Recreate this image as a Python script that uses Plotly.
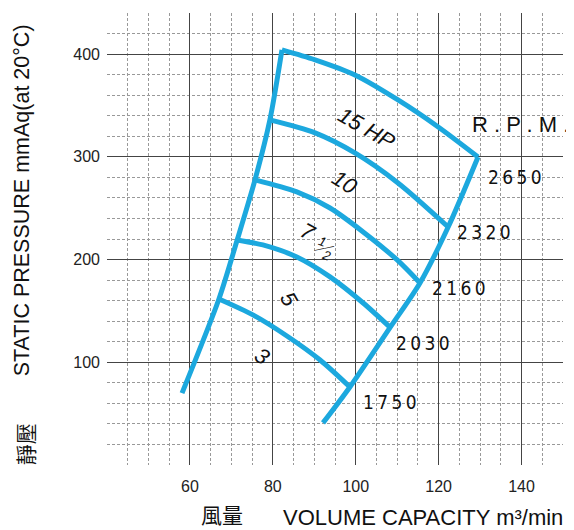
import plotly.graph_objects as go

# ---- data ----
left_x = [58.1, 67.0, 71.4, 75.7, 79.3, 82.2]
left_y = [70, 161.6, 219, 277.5, 336, 404]
right_x = [92.1, 98.6, 108.3, 115.5, 122.3, 129.5]
right_y = [41, 76, 134, 177.2, 231.7, 299.9]

c15_x = [82.2, 90.2, 99.8, 110.2, 119.9, 129.5]
c15_y = [404.1, 394.4, 379.7, 355.4, 329.1, 299.9]
c10_x = [79.3, 90.2, 99.8, 110.2, 122.3]
c10_y = [335.9, 323.3, 303.8, 274.6, 231.7]
c75_x = [75.7, 85.8, 93.8, 101.8, 110.0, 115.5]
c75_y = [277.5, 265.8, 250.2, 226.9, 199.6, 177.2]
c5_x = [71.4, 77.6, 85.8, 93.8, 101.8, 108.3]
c5_y = [219.1, 214.2, 202.5, 183.1, 157.7, 134.0]
c3_x = [67.0, 75.2, 83.4, 91.4, 98.6]
c3_y = [161.6, 146.1, 125.6, 102.2, 75.9]

rpm_labels = ["2650", "2320", "2160", "2030", "1750"]
rpm_x = [138.4, 131.0, 124.9, 116.2, 108.3]
rpm_y = [280.4, 226.9, 172.3, 118.8, 61.3]

hp_labels = ["15 HP", "10", "7", "5", "3"]
hp_x = [102.7, 97.4, 88.3, 83.9, 77.6]
hp_y = [328, 274.6, 226.9, 160.7, 106]
hp_angle = [30, 32, 28, 60, 35]

BLUE = "#1ca8de"
fig = go.Figure()
for xs, ys in [(left_x, left_y), (right_x, right_y), (c15_x, c15_y), (c10_x, c10_y),
               (c75_x, c75_y), (c5_x, c5_y), (c3_x, c3_y)]:
    fig.add_trace(go.Scatter(x=xs, y=ys, mode="lines",
                             line=dict(color=BLUE, width=5, shape="spline", smoothing=0.8),
                             showlegend=False, hoverinfo="skip"))

TXT = "Liberation Sans, Arial, sans-serif"
NARROW = "Liberation Sans Narrow, Arial Narrow, DejaVu Sans Condensed, sans-serif"
anns = []
for t, x, y in zip(rpm_labels, rpm_x, rpm_y):
    anns.append(dict(x=x, y=y, xref="x", yref="y", text="\u2009".join(t), showarrow=False,
                     font=dict(family=NARROW, size=19, color="#111")))
anns.append(dict(x=1.0175, y=331, xref="paper", yref="y", xanchor="right",
                 text="R . P . M .",
                 showarrow=False, font=dict(family=TXT, size=22, color="#111")))
for t, x, y, a in zip(hp_labels, hp_x, hp_y, hp_angle):
    anns.append(dict(x=x, y=y, xref="x", yref="y", text="<i>" + t + "</i>", showarrow=False,
                     textangle=a, font=dict(family=TXT, size=22, color="#111")))
# fraction 1/2 after the 7
anns.append(dict(x=91.9, y=218, xref="x", yref="y", text="<i>1</i>", showarrow=False,
                 textangle=20, font=dict(family=TXT, size=13, color="#111")))
anns.append(dict(x=92.4, y=212, xref="x", yref="y", text="\u2015\u2015", showarrow=False,
                 textangle=-12, font=dict(family=TXT, size=10, color="#111")))
anns.append(dict(x=92.9, y=204, xref="x", yref="y", text="<i>2</i>", showarrow=False,
                 textangle=20, font=dict(family=TXT, size=13, color="#111")))

# axis titles
anns.append(dict(x=-0.186, y=0.586, xref="paper", yref="paper", xanchor="center", yanchor="middle",
                 text="STATIC PRESSURE mmAq(at 20°C)",
                 textangle=-90, showarrow=False, font=dict(family=TXT, size=21.5, color="#111")))
anns.append(dict(x=-0.18, y=0.046, xref="paper", yref="paper", xanchor="center", yanchor="middle",
                 text="靜壓",
                 textangle=-90, showarrow=False, font=dict(family="Noto Sans CJK TC", size=21, color="#111")))
anns.append(dict(x=0.252, y=-0.109, xref="paper", yref="paper", xanchor="center", yanchor="middle",
                 text="風量",
                 showarrow=False, font=dict(family="Noto Sans CJK TC", size=21, color="#111")))
anns.append(dict(x=1.004, y=-0.117, xref="paper", yref="paper", xanchor="right", yanchor="middle",
                 text="VOLUME CAPACITY m³/min",
                 showarrow=False, font=dict(family=TXT, size=22, color="#111")))

# the page body adds an 8px margin, so the figure is 8px smaller than the window
fig.update_layout(
    width=566, height=522,
    margin=dict(l=99, r=11, t=5, b=65, autoexpand=False),
    paper_bgcolor="white", plot_bgcolor="white",
    annotations=anns,
    xaxis=dict(range=[40, 150], tickmode="linear", tick0=60, dtick=20, showgrid=True,
               labelalias={"40": " "},
               gridcolor="#444", gridwidth=1, automargin=False,
               zeroline=False, showline=False, ticks="", ticklabelstandoff=10,
               tickfont=dict(family=TXT, size=16, color="#222"),
               minor=dict(tickmode="linear", tick0=40, dtick=5, showgrid=True,
                          gridcolor="#999", gridwidth=1, griddash="3px,2px")),
    yaxis=dict(range=[0, 440], tickmode="linear", tick0=100, dtick=100, showgrid=True,
               labelalias={"0": " "},
               gridcolor="#444", gridwidth=1, automargin=False,
               zeroline=False, showline=False, ticks="", ticklabelstandoff=6,
               tickfont=dict(family=TXT, size=16, color="#222"),
               minor=dict(tickmode="linear", tick0=0, dtick=20, showgrid=True,
                          gridcolor="#999", gridwidth=1, griddash="3px,2px")),
)
fig.write_html("out.html")
